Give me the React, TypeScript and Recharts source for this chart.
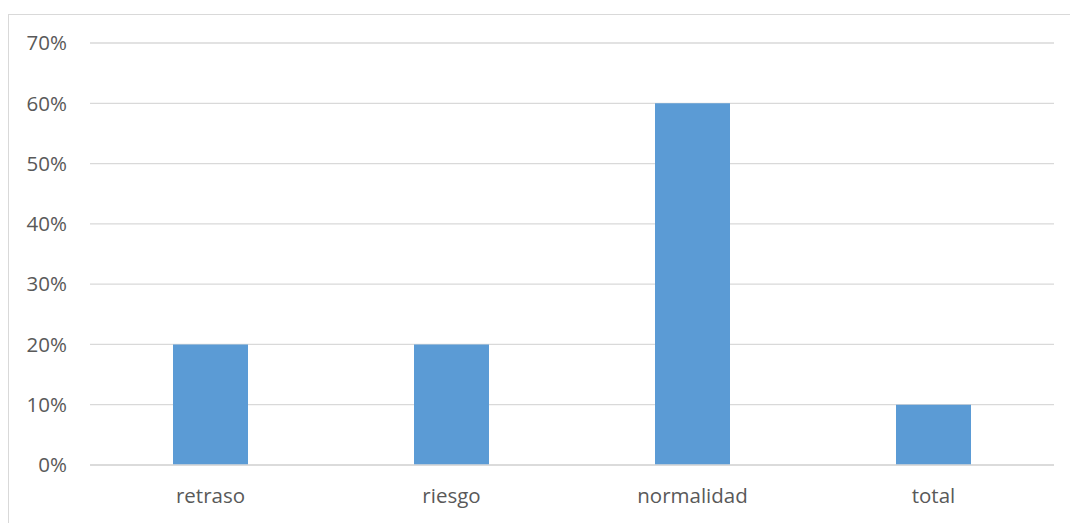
import { Bar, BarChart, CartesianGrid, XAxis, YAxis } from "recharts";

const categories = ["retraso", "riesgo", "normalidad", "total"];
const shares = [0.2, 0.2, 0.6, 0.1];
const yTicks = [0, 0.1, 0.2, 0.3, 0.4, 0.5, 0.6, 0.7];

const data = categories.map((name, i) => ({ name, value: shares[i] }));

const tickStyle = { fontSize: 20.5, fill: "#595959", fontFamily: "'Open Sans', sans-serif" };

export default function App() {
  return (
    <div
      style={{
        position: "absolute",
        left: 8,
        top: 14,
        width: 1061,
        height: 508,
        overflow: "hidden",
        borderLeft: "1px solid #d9d9d9",
        borderTop: "1px solid #d9d9d9",
      }}
    >
      <BarChart
        width={1061}
        height={508}
        data={data}
        margin={{ top: 28, right: 16, left: 0, bottom: 0 }}
      >
        <CartesianGrid vertical={false} stroke="#d9d9d9" strokeWidth={1.3} />
        <XAxis
          dataKey="name"
          height={58}
          tick={tickStyle}
          tickLine={false}
          tickSize={0}
          tickMargin={23}
          axisLine={{ stroke: "#d9d9d9", strokeWidth: 1.3 }}
        />
        <YAxis
          width={81}
          domain={[0, 0.7]}
          ticks={yTicks}
          tick={tickStyle}
          tickLine={false}
          tickSize={0}
          tickMargin={23}
          axisLine={false}
          tickFormatter={(v: number) => `${Math.round(v * 100)}%`}
        />
        <Bar dataKey="value" fill="#5b9bd5" barSize={75} isAnimationActive={false} />
      </BarChart>
    </div>
  );
}
